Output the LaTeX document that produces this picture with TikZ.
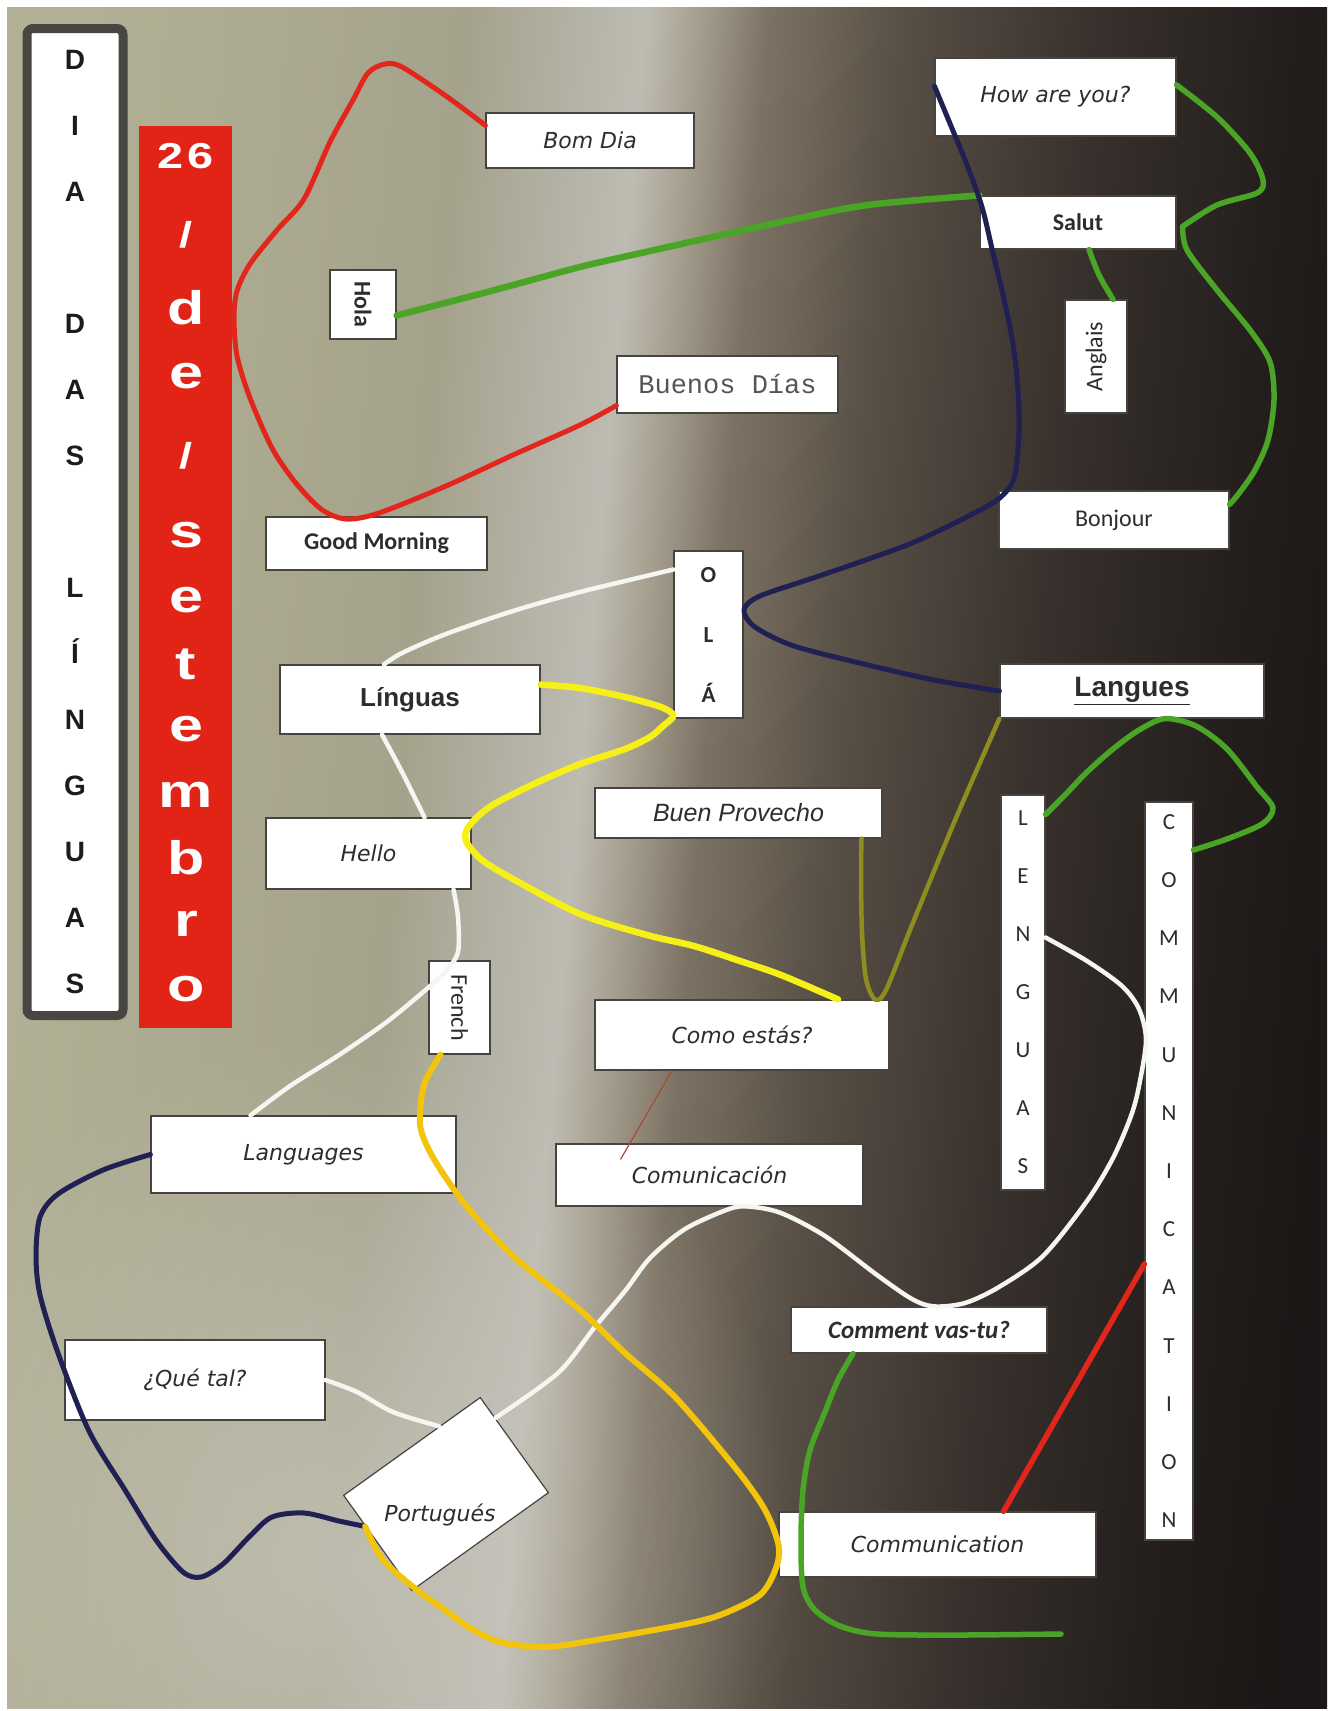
\documentclass[tikz,border=0pt]{standalone}
\usepackage{fontspec}
\setmainfont{Liberation Sans}
\newfontfamily\calfont{Carlito}
\newfontfamily\handfont{DejaVu Sans}
\newfontfamily\songfont{Liberation Mono}
\newfontfamily\datefont[FakeStretch=1.3]{Liberation Sans}
\usepackage{graphicx}
\usepackage{tikz}
\usetikzlibrary{calc, shadows, fadings}
\usepackage{xcolor}
\definecolor{bgA}{RGB}{178,177,150}
\definecolor{bgB}{RGB}{170,168,142}
\definecolor{bgC}{RGB}{165,162,140}
\definecolor{bgD}{RGB}{180,178,165}
\definecolor{bgE}{RGB}{190,188,178}
\definecolor{bgF}{RGB}{165,158,142}
\definecolor{bgG}{RGB}{125,115,100}
\definecolor{bgH}{RGB}{88,79,69}
\definecolor{bgI}{RGB}{56,49,45}
\definecolor{bgJ}{RGB}{36,31,29}
\definecolor{bgK}{RGB}{26,23,22}
\definecolor{bgglow}{RGB}{208,206,198}
\definecolor{boxedge}{RGB}{70,68,64}
\definecolor{diaedge}{RGB}{72,70,66}
\definecolor{diaink}{RGB}{28,28,28}
\definecolor{inkgrey}{RGB}{45,45,45}
\definecolor{songgrey}{RGB}{85,85,85}
\definecolor{datered}{RGB}{226,36,22}
\definecolor{linkred}{RGB}{226,38,28}
\definecolor{linkgreen}{RGB}{74,165,38}
\definecolor{linknavy}{RGB}{32,32,82}
\definecolor{linkwhite}{RGB}{246,246,240}
\definecolor{linkyellow}{RGB}{246,240,24}
\definecolor{linkolive}{RGB}{142,142,32}
\definecolor{linkgold}{RGB}{242,196,12}
\definecolor{linkrust}{RGB}{172,72,52}
\pgfdeclarehorizontalshading{posterbg}{100bp}{color(0bp)=(bgA); color(25bp)=(bgA); color(34bp)=(bgB); color(40bp)=(bgC); color(44bp)=(bgD); color(46.5bp)=(bgE); color(48.5bp)=(bgF); color(51bp)=(bgG); color(56bp)=(bgH); color(63bp)=(bgI); color(70bp)=(bgJ); color(75bp)=(bgK); color(100bp)=(bgK)}
\tikzfading[name=softspot, inner color=transparent!40, outer color=transparent!100]
\tikzset{
    wordbox/.style={draw=boxedge, line width=1.2pt, fill=white, inner sep=0pt, text=inkgrey},
    boxdims/.style 2 args={minimum width=#1pt, minimum height=#2pt},
    handword/.style={font=\handfont\itshape\fontsize{22}{26}\selectfont},
    calword/.style={font=\calfont\fontsize{24}{28}\selectfont},
    calbold/.style={font=\calfont\bfseries\fontsize{24}{28}\selectfont},
    columnbox/.style={wordbox, align=center, font=\calfont\fontsize{23}{58}\selectfont},
    diabox/.style={draw=diaedge, line width=9pt, rounded corners=6pt, fill=white, inner sep=0pt, align=center, text=diaink, font=\bfseries\fontsize{28}{66}\selectfont, drop shadow={shadow xshift=4pt, shadow yshift=-4pt, opacity=0.35}},
    datebox/.style={fill=datered, inner sep=0pt},
    datebig/.style={text=white, inner sep=0pt, font=\datefont\bfseries\fontsize{47}{50}\selectfont},
    datesmall/.style={text=white, inner sep=0pt, font=\datefont\bfseries\fontsize{36}{40}\selectfont},
    redlink/.style={draw=linkred, line width=5pt, line cap=round, line join=round},
    greenlink/.style={draw=linkgreen, line width=5.5pt, line cap=round, line join=round},
    navylink/.style={draw=linknavy, line width=5pt, line cap=round, line join=round},
    whitelink/.style={draw=linkwhite, line width=4.5pt, line cap=round, line join=round},
    yellowlink/.style={draw=linkyellow, line width=6.5pt, line cap=round, line join=round},
    olivelink/.style={draw=linkolive, line width=4.5pt, line cap=round, line join=round},
    goldlink/.style={draw=linkgold, line width=6pt, line cap=round, line join=round},
    rustlink/.style={draw=linkrust, line width=1.2pt}
}
\begin{document}
\begin{tikzpicture}[x=1pt,y=-1pt]
\useasboundingbox (0,0) rectangle (1335,1711);
\fill[white] (0,0) rectangle (1335,1711);
\shade[shading=posterbg, shading angle=-5] (7,7) rectangle (1327,1708);
\begin{scope}
    \clip (7,7) rectangle (1327,1708);
    \fill[bgglow, path fading=softspot] (330,1560) ellipse [x radius=470, y radius=540];
\end{scope}

\node[diabox, boxdims={96}{987}] (dias) at (75,522) {D\\I\\A\\[66pt]D\\A\\S\\[66pt]L\\Í\\N\\G\\U\\A\\S};
\node[datebox, boxdims={93}{902}] (datebox) at (185.5,577) {};
\node[datesmall] (date157) at (186,156) {2\kern4pt6};
\node[datesmall] (date235) at (186,235) {/};
\node[datesmall] (date456) at (186,456) {/};
\foreach \yy/\ch in {308/d, 376/e, 535/s, 600/e, 664/t, 729/e, 795/m, 858/b, 924/r, 989/o}
    \node[datebig] (date\yy) at (186,\yy) {\ch};

\node[wordbox, handword, boxdims={208}{55}] (bomdia) at (590,140.5) {Bom Dia};
\node[wordbox, calbold, boxdims={66}{69}] (hola) at (363,304.5) {\rotatebox{-90}{Hola}};
\node[wordbox, boxdims={221}{57}, text=songgrey, font=\songfont\fontsize{27}{30}\selectfont] (buenos) at (727.5,384.5) {Buenos Días};
\node[wordbox, calbold, boxdims={221}{53}] (goodmorning) at (376.5,543.5) {Good Morning};
\node[wordbox, handword, boxdims={241}{78}] (howareyou) at (1055.5,97) {How are you?};
\node[wordbox, calbold, boxdims={196}{53}] (salut) at (1078,222.5) {Salut};
\node[wordbox, calword, boxdims={62}{113}] (anglais) at (1096,356.5) {\rotatebox{90}{Anglais}};
\node[wordbox, calword, boxdims={230}{58}] (bonjour) at (1114,520) {Bonjour};
\node[columnbox, boxdims={69}{167}, font=\calfont\bfseries\fontsize{23}{60}\selectfont] (ola) at (708.5,634.5) {O\\L\\Á};
\node[wordbox, boxdims={260}{69}, font=\bfseries\fontsize{26}{30}\selectfont] (linguas) at (410,699.5) {Línguas};
\node[wordbox, boxdims={264}{54}, font=\bfseries\fontsize{28}{30}\selectfont] (langues) at (1132,691) {\underline{Langues}};
\node[wordbox, boxdims={287}{50}, font=\itshape\fontsize{25}{28}\selectfont] (buenprovecho) at (738.5,813) {Buen Provecho};
\node[wordbox, handword, boxdims={205}{71}] (hello) at (368.5,853.5) {Hello};
\node[columnbox, boxdims={44}{395}] (lenguas) at (1023,992.5) {L\\E\\N\\G\\U\\A\\S};
\node[columnbox, boxdims={48}{738}, font=\calfont\fontsize{23}{58.2}\selectfont] (commcol) at (1169,1171) {C\\O\\M\\M\\U\\N\\I\\C\\A\\T\\I\\O\\N};
\node[wordbox, calword, boxdims={61}{93}] (french) at (459.5,1007.5) {\rotatebox{-90}{French}};
\node[wordbox, handword, boxdims={294}{70}] (comoestas) at (742,1035) {Como estás?};
\node[wordbox, handword, boxdims={305}{77}] (languages) at (303.5,1154.5) {Languages};
\node[wordbox, handword, boxdims={307}{62}] (comunicacion) at (709.5,1175) {Comunicación};
\node[wordbox, handword, boxdims={260}{80}] (quetal) at (195,1380) {¿Qué tal?};
\node[wordbox, boxdims={256}{46}, font=\calfont\bfseries\itshape\fontsize{25}{28}\selectfont] (commentvas) at (919,1330) {Comment vas-tu?};
\node[wordbox, rotate=35.6, boxdims={168}{117}] (portugues) at (446,1494) {};
\node[handword, text=inkgrey] (portlabel) at (440,1515) {Portugués};
\node[wordbox, handword, boxdims={317}{65}] (communication) at (937.5,1544.5) {Communication};
\coordinate (greenend) at (1061,1634);

\draw[redlink] plot[smooth] coordinates {([yshift=-13pt]bomdia.north west) (446,96) (402,67) (385,64) (368,73) (353,100) (330,142) (304,199) (277,230) (250,264) (237,291) (234,318) (237,356) (250,398) (272,448) (295,482) (321,509) (346,519) (379,513) (446,486) (513,455) (580,425) ([yshift=-21pt]buenos.west)};
\draw[greenlink, line width=6.5pt] plot[smooth] coordinates {([yshift=-11pt]hola.east) (491,291) (580,267) (650,251) (781,222) (868,205) (salut.north west)};
\draw[greenlink] plot[smooth] coordinates {([yshift=12pt]howareyou.east) (1217,117) (1250,153) (1263,180) (1257,193) (1217,205) ([xshift=6pt,yshift=-4pt]salut.east)};
\draw[greenlink] plot[smooth] coordinates {([xshift=6pt,yshift=-4pt]salut.east) (1187,250) (1217,290) (1250,330) (1270,362) (1274,400) (1268,440) (1255,470) (1240,492) ([yshift=-14pt]bonjour.north east)};
\draw[greenlink] plot[smooth] coordinates {([xshift=11pt]salut.south) (1099,275) ([xshift=17pt]anglais.north)};
\draw[navylink] plot[smooth] coordinates {([yshift=11pt]howareyou.west) (951,126) (967,165) (982,207) (993,253) (1004,299) (1013,344) (1018,390) (1019,432) (1015,475) (1004,494) (982,509) (912,543) (825,574) (760,596) (744,610) (755,627) (794,646) (868,665) (934,680) (langues.west)};
\draw[navylink] plot[smooth] coordinates {(languages.west) (103,1170) (58,1194) (40,1217) (36,1256) (40,1295) (58,1353) (89,1431) (125,1490) (156,1540) (183,1572) (201,1577) (223,1564) (250,1536) (272,1517) (304,1513) (339,1521) ($(portugues.west)!0.35!(portugues.north west)$)};
\draw[whitelink] plot[smooth] coordinates {([yshift=65pt]ola.west) (580,592) (513,611) (446,634) (402,653) ([xshift=-26pt]linguas.north)};
\draw[whitelink] plot[smooth] coordinates {([xshift=-28pt]linguas.south) (402,772) ([xshift=56pt]hello.north)};
\draw[whitelink] plot[smooth] coordinates {([xshift=85pt]hello.south) (458,917) (458,952) (446,971) ([yshift=20pt]french.west)};
\draw[whitelink] plot[smooth] coordinates {([yshift=20pt]french.west) (388,1021) (339,1055) (290,1086) ([xshift=-53pt]languages.north)};
\draw[whitelink] plot[smooth] coordinates {(quetal.east) (357,1392) (393,1412) ($(portugues.north)!0.4!(portugues.north east)$)};
\draw[whitelink] plot[smooth] coordinates {($(portugues.north east)!0.22!(portugues.south east)$) (558,1373) (594,1328) (625,1291) (650,1258) (685,1229) (729,1209) ([xshift=40pt]comunicacion.south) (781,1213) (825,1236) (877,1275) (912,1299) ([xshift=15pt]commentvas.north) (965,1303) (999,1287) (1043,1256) (1087,1201) (1113,1158) (1131,1116) (1139,1086) (1146,1040) (1139,1009) (1122,986) (1087,961) ([yshift=55pt]lenguas.east)};
\draw[yellowlink] plot[smooth] coordinates {([yshift=15pt]linguas.east) (580,688) (625,697) (661,707) ([yshift=3pt]ola.south west) (663,726) (650,737) (625,749) (580,764) (536,783) (491,806) (469,826) (466,841) (482,860) (513,879) (580,914) (647,935) (694,946) (737,960) (781,975) ([xshift=96pt]comoestas.north)};
\draw[olivelink] plot[smooth] coordinates {([xshift=123pt]buenprovecho.south) (861,875) (862,933) (866,979) ([xshift=133pt]comoestas.north) (886,990) (912,925) (956,818) (langues.south west)};
\draw[goldlink] plot[smooth] coordinates {([xshift=-19pt]french.south) (424,1085) (420,1124) (429,1150) (446,1178) (469,1209) (513,1256) (580,1310) (625,1353) (676,1398) (737,1470) (765,1510) (communication.west) (776,1568) (760,1595) (720,1615) (681,1625) (596,1640) (545,1647) (500,1642) (470,1628) (445,1610) (417,1590) (383,1560) ($(portugues.west)!0.35!(portugues.north west)$)};
\draw[rustlink] ([xshift=-70pt]comoestas.south) -- ([xshift=-89pt,yshift=-16pt]comunicacion.north);
\draw[redlink, line width=5.5pt] ([xshift=66pt]communication.north) -- ([yshift=-93pt]commcol.west);
\draw[greenlink] plot[smooth] coordinates {([xshift=-66pt]commentvas.south) (838,1380) (825,1412) (810,1450) (803,1490) (801,1540) (803,1587) (815,1610) (840,1626) (877,1634) (960,1635) (greenend)};
\draw[greenlink] plot[smooth] coordinates {([yshift=178pt]lenguas.east) (1065,795) (1087,772) (1113,749) (1139,730) ([xshift=33pt]langues.south) (1196,726) (1227,749) (1257,787) (1273,808) (1262,824) (1227,839) ([yshift=321pt]commcol.east)};
\end{tikzpicture}
\end{document}
